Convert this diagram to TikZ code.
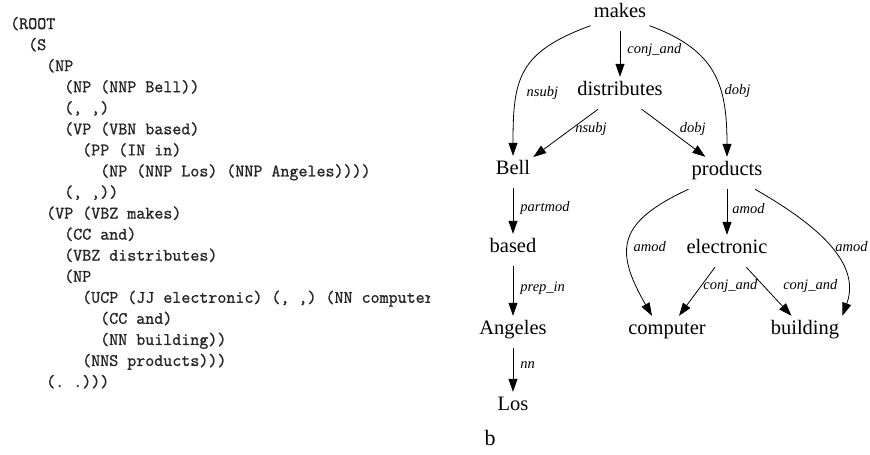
\documentclass[tikz,border=0pt]{standalone}
\usepackage{fontspec}
\setmainfont{Liberation Serif}
\setmonofont[FakeBold=1.2]{Latin Modern Mono}
\usetikzlibrary{arrows.meta}

\tikzset{
  word/.style={font=\fontsize{20.5}{24}\selectfont, text height=0.7em, text depth=0.22em,
    minimum height=32pt, inner xsep=3pt, inner ysep=0pt},
  rel/.style={font=\fontsize{14.5}{17}\selectfont\itshape, inner sep=1pt},
  dep/.style={-{Triangle[length=13pt,width=9pt]}, line width=0.8pt},
  code/.style={font=\fontsize{17.5}{20}\selectfont\ttfamily, text=black!85,
    anchor=base west, inner sep=0pt}
}

\begin{document}
\begin{tikzpicture}[x=1pt,y=1pt]
\useasboundingbox (0,0) rectangle (870,-455);

% parse tree, one line each
\begin{scope}
  \clip (0,0) rectangle (430,-455);
  \foreach \ind/\txt [count=\i] in {
      0/{(ROOT}, 2/{(S}, 4/{(NP}, 6/{(NP (NNP Bell))}, 6/{(, ,)},
      6/{(VP (VBN based)}, 8/{(PP (IN in)}, 10/{(NP (NNP Los) (NNP Angeles))))},
      6/{(, ,))}, 4/{(VP (VBZ makes)}, 6/{(CC and)}, 6/{(VBZ distributes)},
      6/{(NP}, 8/{(UCP (JJ electronic) (, ,) (NN computer)}, 10/{(CC and)},
      10/{(NN building))}, 8/{(NNS products)))}, 4/{(. .)))}}
    \node[code] (line\i) at ({10+9*\ind}, {-29-21.06*(\i-1)}) {\txt};
\end{scope}

% dependency graph
\node[word] (makes)       at (620,-15)  {makes};
\node[word] (distributes) at (620,-93)  {distributes};
\node[word] (bell)        at (513,-172) {Bell};
\node[word] (products)    at (727,-173) {products};
\node[word] (based)       at (513,-250) {based};
\node[word] (electronic)  at (727,-251) {electronic};
\node[word] (angeles)     at (513,-332) {Angeles};
\node[word] (computer)    at (667,-332) {computer};
\node[word] (building)    at (805,-332) {building};
\node[word] (los)         at (513,-408) {Los};
\node[word, font=\fontsize{22}{26}\selectfont] (caption) at (490,-443) {b};

\draw[dep] (makes) -- node[rel, right=6pt, pos=0.41] {conj\_and} (distributes);
\draw[dep] (makes) to[out=200, in=90, looseness=1.3]
  node[rel, right=8pt, pos=0.66] {nsubj} (bell);
\draw[dep] (makes) to[out=-20, in=90, looseness=1.2]
  node[rel, right=3pt, pos=0.63] {dobj} (products);
\draw[dep] (distributes) -- node[rel, right=3pt, pos=0.42] {nsubj} (bell);
\draw[dep] (distributes) -- node[rel, right=10pt, pos=0.42] {dobj} (products);
\draw[dep] (bell) -- node[rel, right=6pt, pos=0.43] {partmod} (based);
\draw[dep] (based) -- node[rel, right=6pt, pos=0.44] {prep\_in} (angeles);
\draw[dep] (angeles) -- node[rel, right=6pt, pos=0.38] {nn} (los);
\draw[dep] (products) -- node[rel, right=4pt, pos=0.43] {amod} (electronic);
\draw[dep] (products.south west) to[out=205, in=120, looseness=1.5]
  node[rel, right=4pt, pos=0.56] {amod} ([xshift=-15pt]computer.north);
\draw[dep] (products) to[out=-30, in=70]
  node[rel, right=5pt, pos=0.53] {amod} (building.north east);
\draw[dep] (electronic) -- node[rel, right=1pt, pos=0.39] {conj\_and} (computer);
\draw[dep] (electronic.-40) -- node[rel, right=18pt, pos=0.39] {conj\_and} (building.130);
\end{tikzpicture}
\end{document}
